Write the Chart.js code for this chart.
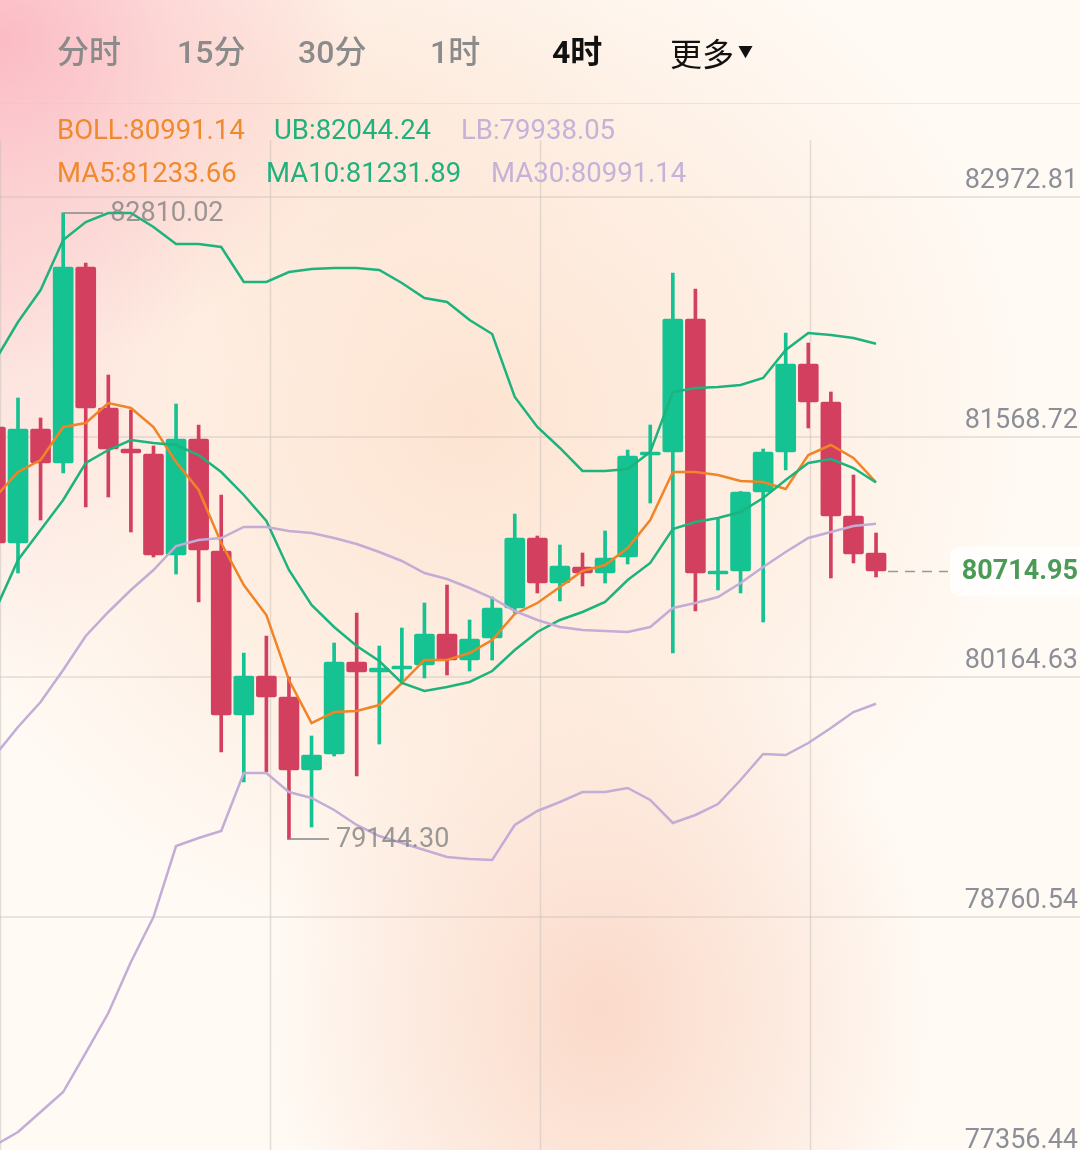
<!DOCTYPE html>
<html>
<head>
<meta charset="utf-8">
<script src="https://cdn.jsdelivr.net/npm/chart.js@4.4.1/dist/chart.umd.min.js"></script>
<style>
html, body { margin: 0; padding: 0; }
body {
  width: 1080px; height: 1150px; overflow: hidden; position: relative;
  font-family: Roboto, "Noto Sans CJK SC", sans-serif;
  background:
    radial-gradient(ellipse 360px 330px at 0px 40px, rgba(251,184,195,0.95) 0%, rgba(251,192,198,0.55) 45%, rgba(251,200,200,0) 100%),
    radial-gradient(ellipse 200px 420px at 0px 280px, rgba(251,205,205,0.55), rgba(251,205,205,0)),
    radial-gradient(ellipse 560px 540px at 470px 420px, rgba(253,224,204,0.85) 0%, rgba(253,228,210,0.5) 55%, rgba(253,228,210,0) 100%),
    radial-gradient(ellipse 330px 400px at 600px 1010px, rgba(250,212,194,0.85) 0%, rgba(250,215,198,0.45) 55%, rgba(250,215,198,0) 100%),
    radial-gradient(ellipse 360px 260px at 280px 110px, rgba(253,226,212,0.6), rgba(253,226,212,0)),
    #fffaf4;
}
#kline { position: absolute; left: 0; top: 0; }
.sep { position: absolute; left: 0; top: 103px; width: 1080px; height: 1px; background: rgba(215,205,200,0.4); }
.tab { position: absolute; top: 32px; height: 40px; line-height: 40px; font-size: 32px; color: #8b8b8b; font-weight: 500; white-space: nowrap; }
.tab.on { color: #111; font-weight: 700; }
.tab.more { color: #111; font-weight: 400; }
.tab.more small { font-size: 15px; vertical-align: 9px; margin-left: 4px; }
.lg { position: absolute; height: 34px; line-height: 34px; font-size: 27.5px; white-space: nowrap; }
.r1 { top: 113px; } .r2 { top: 156px; }
.or { color: #ef8a2f; } .gr { color: #1fb27d; } .li { color: #c5b2d8; }
</style>
</head>
<body>
<canvas id="kline" width="1080" height="1160"></canvas>
<div class="sep"></div>
<span class="tab" style="left:57px">分时</span>
<span class="tab" style="left:177px">15分</span>
<span class="tab" style="left:298px">30分</span>
<span class="tab" style="left:430px">1时</span>
<span class="tab on" style="left:552px">4时</span>
<span class="tab more" style="left:670px">更多<small>▼</small></span>
<span class="lg r1 or" style="left:57px" id="lgBoll"></span>
<span class="lg r1 gr" style="left:274px" id="lgUb"></span>
<span class="lg r1 li" style="left:461px" id="lgLb"></span>
<span class="lg r2 or" style="left:57px" id="lgMa5"></span>
<span class="lg r2 gr" style="left:266px" id="lgMa10"></span>
<span class="lg r2 li" style="left:491px" id="lgMa30"></span>
<script>
// price axis labels
const yTicks = [82972.81, 81568.72, 80164.63, 78760.54, 77356.44];

// 4h candles, oldest first (first one is cut off at the left edge)
const opens = [81557.0, 80878.4, 81545.3, 81346.4, 82493.1, 81668.2, 81428.3, 81399.0, 80808.2, 81486.8,
  80831.6, 79872.1, 80100.3, 79977.4, 79550.3, 79643.9, 80182.2, 80123.7, 80141.2, 80164.6,
  80346.0, 80193.9, 80322.6, 80498.1, 80907.6, 80644.3, 80737.9, 80702.9, 80796.5, 81393.2,
  81410.7, 82188.9, 80697.0, 80714.5, 81176.7, 81410.7, 81925.6, 81703.3, 81036.3, 80819.9];
const closes = [80878.4, 81545.3, 81346.4, 82493.1, 81668.2, 81428.3, 81404.9, 80808.2, 81486.8, 80837.4,
  79872.1, 80100.3, 79977.4, 79550.3, 79638.1, 80182.2, 80123.7, 80147.1, 80158.8, 80346.0,
  80193.9, 80316.7, 80498.1, 80907.6, 80644.3, 80743.8, 80702.9, 80790.6, 81387.3, 81410.7,
  82188.9, 80702.9, 80714.5, 81176.7, 81410.7, 81925.6, 81703.3, 81036.3, 80814.0, 80714.95];
const highs = [81627.2, 81726.7, 81609.7, 82810.02, 82516.5, 81861.2, 81656.5, 81445.9, 81691.6, 81568.7,
  81159.2, 80234.9, 80334.3, 80094.4, 79749.2, 80293.3, 80468.9, 80275.8, 80381.1, 80527.3,
  80632.6, 80427.9, 80562.4, 81048.0, 80919.3, 80866.7, 80819.9, 80948.6, 81422.4, 81568.7,
  82458.0, 82364.4, 81018.8, 81180.0, 81428.3, 82106.9, 82048.4, 81761.8, 81276.2, 80936.9];
const lows = [80778.9, 80702.9, 81012.9, 81287.9, 81089.0, 81147.5, 80942.7, 80796.5, 80697.0, 80533.2,
  79655.6, 79480.1, 79538.6, 79144.30, 79216.9, 79632.2, 79515.2, 79702.4, 80059.3, 80088.6,
  80106.1, 80129.5, 80193.9, 80468.9, 80585.9, 80539.0, 80626.8, 80644.3, 80755.5, 81112.4,
  80234.9, 80480.5, 80603.4, 80585.9, 80416.2, 81305.4, 81551.2, 80673.6, 80761.4, 80679.4];

// Bollinger bands (mid line = MA30)
const ub = [81949.0, 82171.3, 82358.5, 82651.0, 82756.3, 82809.0, 82809.0, 82727.1, 82627.6, 82627.6,
  82610.1, 82405.3, 82405.3, 82463.8, 82481.4, 82487.2, 82487.2, 82475.5, 82399.5, 82311.7,
  82288.3, 82183.0, 82101.1, 81732.5, 81557.0, 81434.2, 81299.6, 81299.6, 81311.3, 81410.7,
  81761.8, 81785.2, 81791.0, 81802.7, 81843.7, 82007.5, 82106.9, 82095.2, 82077.7, 82044.24];
const boll = [79638.1, 79801.9, 79948.2, 80135.4, 80334.3, 80474.7, 80603.4, 80720.4, 80860.8, 80895.9,
  80907.6, 80972.0, 80972.0, 80948.6, 80936.9, 80907.6, 80872.5, 80825.7, 80773.1, 80702.9,
  80667.8, 80615.1, 80556.6, 80480.5, 80427.9, 80386.9, 80369.4, 80363.5, 80357.7, 80386.9,
  80498.1, 80527.3, 80562.4, 80644.3, 80737.9, 80825.7, 80907.6, 80942.7, 80977.8, 80991.14];
const lb = [77356.4, 77432.5, 77549.5, 77666.5, 77894.7, 78128.7, 78427.1, 78690.3, 79105.7, 79152.5,
  79193.5, 79532.8, 79532.8, 79421.6, 79386.5, 79316.3, 79228.6, 79164.2, 79123.3, 79082.3,
  79041.3, 79029.6, 79023.8, 79228.6, 79310.5, 79363.1, 79421.6, 79421.6, 79445.0, 79375.3,
  79240.3, 79287.1, 79351.4, 79491.8, 79643.9, 79638.1, 79708.3, 79796.0, 79889.6, 79938.05];

// moving averages
const ma5 = [81147.5, 81293.7, 81363.9, 81557.0, 81580.4, 81697.4, 81668.2, 81557.0, 81352.3, 81188.4,
  80878.4, 80632.6, 80457.1, 80076.9, 79825.3, 79889.6, 79895.5, 79930.6, 80059.3, 80193.9,
  80193.9, 80234.9, 80310.9, 80463.0, 80527.3, 80620.9, 80714.6, 80749.7, 80849.1, 81012.9,
  81293.7, 81293.7, 81276.2, 81241.1, 81235.2, 81194.3, 81393.2, 81451.7, 81375.6, 81233.66];
const ma10 = [80486.4, 80778.9, 80954.4, 81129.9, 81346.4, 81422.4, 81481.0, 81463.4, 81451.7, 81393.2,
  81293.7, 81159.2, 81007.1, 80720.4, 80515.6, 80386.9, 80275.8, 80188.0, 80059.3, 80012.5,
  80035.9, 80065.2, 80129.5, 80252.4, 80357.7, 80427.9, 80474.7, 80533.2, 80661.9, 80761.4,
  80960.3, 81001.2, 81024.6, 81059.7, 81141.6, 81246.9, 81346.4, 81369.8, 81317.1, 81231.89];

const UP = '#14c292', DOWN = '#d3405f';
const C_GREEN = '#1db37d', C_ORANGE = '#f08426', C_LILAC = '#c3acd6';

const last = closes.length - 1;
document.getElementById('lgBoll').textContent = 'BOLL:' + boll[last].toFixed(2);
document.getElementById('lgUb').textContent = 'UB:' + ub[last].toFixed(2);
document.getElementById('lgLb').textContent = 'LB:' + lb[last].toFixed(2);
document.getElementById('lgMa5').textContent = 'MA5:' + ma5[last].toFixed(2);
document.getElementById('lgMa10').textContent = 'MA10:' + ma10[last].toFixed(2);
document.getElementById('lgMa30').textContent = 'MA30:' + boll[last].toFixed(2);

// layout: candle spacing and where the first candle sits, in px
const STEP = 22.58, FIRST_X = -4.58, TOP = 140, H = 1160;
const xMin = -FIRST_X / STEP;
const xMax = xMin + 1080 / STEP;
const perPx = (yTicks[0] - yTicks[4]) / 960;   // labels are 240px apart
const yMax = yTicks[0] + (185 - TOP) * perPx;  // top label centred at y=185
const yMin = yTicks[4] - (H - 1145) * perPx;

const colors = opens.map((o, i) => closes[i] >= o ? UP : DOWN);
const pts = arr => arr.map((v, i) => ({ x: i, y: v }));

function lineSet(data, color) {
  return { type: 'line', data: pts(data), borderColor: color, borderWidth: 2.5,
    pointRadius: 0, tension: 0, fill: false, order: 0 };
}

const klineDecor = {
  id: 'klineDecor',
  beforeDatasetsDraw(chart) {
    const { ctx, chartArea: a, scales: { y } } = chart;
    ctx.save();
    ctx.strokeStyle = 'rgba(200,192,188,0.5)';
    ctx.lineWidth = 1.5;
    yTicks.forEach(v => {
      const py = Math.round(y.getPixelForValue(v)) + 12;
      ctx.beginPath(); ctx.moveTo(0, py); ctx.lineTo(1080, py); ctx.stroke();
    });
    for (let k = 0; k < 4; k++) {
      const px = Math.round(a.left + k * a.width / 4) + 0.5;
      ctx.beginPath(); ctx.moveTo(px, a.top); ctx.lineTo(px, a.bottom); ctx.stroke();
    }
    ctx.restore();
  },
  afterDatasetsDraw(chart) {
    const { ctx, scales: { x, y } } = chart;
    ctx.save();
    // price labels
    ctx.font = '27px Roboto';
    ctx.fillStyle = '#8d8f98';
    ctx.textAlign = 'right';
    ctx.textBaseline = 'middle';
    yTicks.forEach(v => ctx.fillText(v.toFixed(2), 1078, y.getPixelForValue(v) - 4));

    // highest high / lowest low markers
    const hi = highs.indexOf(Math.max(...highs));
    const lo = lows.indexOf(Math.min(...lows));
    ctx.textAlign = 'left';
    ctx.strokeStyle = 'rgba(140,140,140,0.8)';
    ctx.fillStyle = 'rgba(130,130,130,0.8)';
    ctx.lineWidth = 2;
    [[hi, highs[hi]], [lo, lows[lo]]].forEach(([i, v]) => {
      const px = x.getPixelForValue(i), py = Math.round(y.getPixelForValue(v));
      ctx.beginPath(); ctx.moveTo(px, py); ctx.lineTo(px + 40, py); ctx.stroke();
      ctx.fillText(v.toFixed(2), px + 47, py + 1);
    });

    // last price
    const lp = closes[last];
    const py = Math.round(y.getPixelForValue(lp)) + 0.5;
    ctx.strokeStyle = '#8fa08f';
    ctx.lineWidth = 1.5;
    ctx.setLineDash([10, 7]);
    ctx.beginPath(); ctx.moveTo(x.getPixelForValue(last) + 12, py); ctx.lineTo(948, py); ctx.stroke();
    ctx.setLineDash([]);
    ctx.fillStyle = 'rgba(255,255,255,0.8)';
    ctx.beginPath();
    ctx.roundRect(950, py - 25, 140, 50, 10);
    ctx.fill();
    ctx.font = 'bold 27px Roboto';
    ctx.fillStyle = '#4b9a56';
    ctx.textAlign = 'right';
    ctx.fillText(lp.toFixed(2), 1078, py + 1);
    ctx.restore();
  }
};

new Chart(document.getElementById('kline'), {
  type: 'bar',
  data: {
    datasets: [
      lineSet(ub, C_GREEN),
      lineSet(boll, C_LILAC),
      lineSet(lb, C_LILAC),
      lineSet(ma10, C_GREEN),
      lineSet(ma5, C_ORANGE),
      { type: 'bar', data: opens.map((o, i) => ({ x: i, y: [o, closes[i]] })),
        backgroundColor: colors, barThickness: 20, minBarLength: 3, borderRadius: 2,
        borderSkipped: false, grouped: false, order: 1 },
      { type: 'bar', data: lows.map((l, i) => ({ x: i, y: [l, highs[i]] })),
        backgroundColor: colors, barThickness: 3, grouped: false, order: 2 }
    ]
  },
  options: {
    responsive: false,
    animation: false,
    layout: { padding: { top: TOP, left: 0, right: 0, bottom: 0 } },
    plugins: { legend: { display: false }, tooltip: { enabled: false } },
    scales: {
      x: { type: 'linear', display: false, min: xMin, max: xMax, offset: false },
      y: { type: 'linear', display: false, min: yMin, max: yMax }
    }
  },
  plugins: [klineDecor]
});
</script>
</body>
</html>
